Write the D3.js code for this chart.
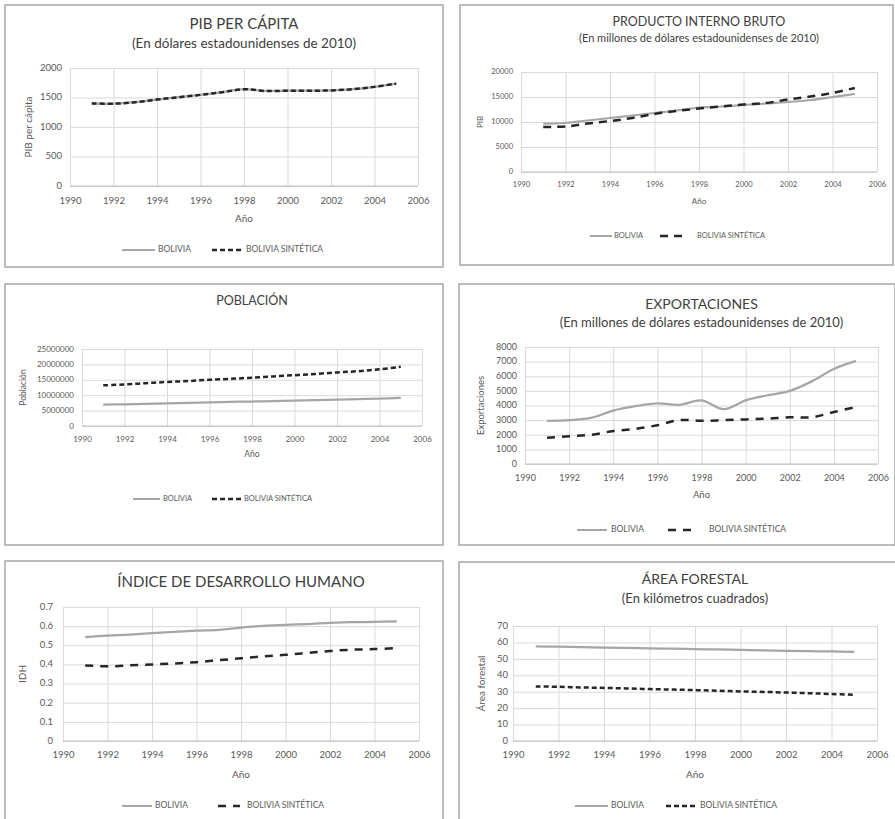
<!DOCTYPE html>
<html><head><meta charset="utf-8">
<script src="https://cdn.jsdelivr.net/npm/d3@7"></script>
<style>
html,body{margin:0;padding:0;background:#fff;}
svg text{font-family:Lato,"Open Sans",sans-serif;}
</style></head>
<body><svg id="c" width="895" height="819"></svg>
<script>
// ---------- DATA ----------
const years = [1991,1992,1993,1994,1995,1996,1997,1998,1999,2000,2001,2002,2003,2004,2005];
const xTicks = [1990,1992,1994,1996,1998,2000,2002,2004,2006];
const legendLabels = ["BOLIVIA","BOLIVIA SINTÉTICA"];
const xAxisTitle = "Año";

const pibpcTitle = "PIB PER CÁPITA";
const pibpcSubtitle = "(En dólares estadounidenses de 2010)";
const pibpcYTitle = "PIB per cápita";
const pibpcTicks = [0,500,1000,1500,2000];
const pibpcBolivia = [1400,1395,1420,1465,1505,1545,1590,1640,1612,1615,1615,1620,1640,1680,1735];
const pibpcSint    = [1400,1395,1420,1465,1505,1545,1590,1640,1610,1615,1615,1620,1640,1680,1735];

const pibTitle = "PRODUCTO INTERNO BRUTO";
const pibSubtitle = "(En millones de dólares estadounidenses de 2010)";
const pibYTitle = "PIB";
const pibTicks = [0,5000,10000,15000,20000];
const pibBolivia = [9700,9800,10300,10800,11300,11800,12300,12900,13100,13400,13700,14000,14400,15000,15600];
const pibSint    = [9000,9100,9700,10200,10800,11600,12200,12700,13100,13500,13800,14500,15100,15800,16800];

const pobTitle = "POBLACIÓN";
const pobYTitle = "Población";
const pobTicks = [0,5000000,10000000,15000000,20000000,25000000];
const pobBolivia = [6900000,7050000,7200000,7350000,7500000,7650000,7800000,7950000,8100000,8250000,8400000,8550000,8700000,8900000,9100000];
const pobSint    = [13200000,13500000,13900000,14300000,14600000,15000000,15300000,15700000,16100000,16500000,16900000,17400000,17800000,18400000,19200000];

const expTitle = "EXPORTACIONES";
const expSubtitle = "(En millones de dólares estadounidenses de 2010)";
const expYTitle = "Exportaciones";
const expTicks = [0,1000,2000,3000,4000,5000,6000,7000,8000];
const expBolivia = [2950,3000,3150,3650,3950,4150,4050,4350,3750,4350,4700,5000,5650,6500,7050];
const expSint    = [1800,1900,2000,2250,2400,2650,3000,2950,3000,3050,3100,3200,3200,3550,3900];

const idhTitle = "ÍNDICE DE DESARROLLO HUMANO";
const idhYTitle = "IDH";
const idhTicks = [0,0.1,0.2,0.3,0.4,0.5,0.6,0.7];
const idhBolivia = [0.543,0.550,0.556,0.563,0.570,0.576,0.580,0.592,0.601,0.607,0.611,0.617,0.621,0.622,0.625];
const idhSint    = [0.395,0.390,0.395,0.400,0.405,0.412,0.422,0.432,0.442,0.450,0.460,0.470,0.477,0.480,0.485];

const forTitle = "ÁREA FORESTAL";
const forSubtitle = "(En kilómetros cuadrados)";
const forYTitle = "Área forestal";
const forTicks = [0,10,20,30,40,50,60,70];
const forBolivia = [57.6,57.4,57.1,56.9,56.7,56.4,56.2,55.9,55.7,55.4,55.2,54.9,54.7,54.5,54.3];
const forSint    = [33.2,33.0,32.6,32.3,32.0,31.6,31.3,31.0,30.6,30.2,29.9,29.5,29.1,28.6,28.2];

// ---------- LAYOUT ----------
const panels = [
 {title:pibpcTitle, sub:pibpcSubtitle, ytitle:pibpcYTitle, yt:pibpcTicks, a:pibpcBolivia, b:pibpcSint,
  box:[5,5,443,267], plot:[70,418,68,186], ty:25, sy:45, tfs:15, sfs:13.5, tickFs:9.5, tickY:202, axY:219, yTitleX:29,
  legY:250, leg:[122,155,158,212,243,246], legFs:8.5, dash:"5,3", gapY:8},
 {title:pibTitle, sub:pibSubtitle, ytitle:pibYTitle, yt:pibTicks, a:pibBolivia, b:pibSint,
  box:[460,5,893,265], plot:[521,877,72,172], ty:23, sy:39, tfs:12.5, sfs:11, tickFs:7.5, tickY:185, axY:202, yTitleX:481,
  legY:236, leg:[590,612,614,660,683,697], legFs:7.5, dash:"8,6", gapY:8},
 {title:pobTitle, sub:null, ytitle:pobYTitle, yt:pobTicks, a:pobBolivia, b:pobSint,
  box:[5,284,443,545], plot:[82,422,349,426], ty:302, sy:0, tfs:12.5, sfs:0, tickFs:8, tickY:440, axY:455, yTitleX:24,
  legY:499, leg:[133,160,163,212,242,244], legFs:7.5, dash:"5,3", gapY:8},
 {title:expTitle, sub:expSubtitle, ytitle:expYTitle, yt:expTicks, a:expBolivia, b:expSint,
  box:[459,284,895,545], plot:[525,878,347,464], ty:305, sy:324, tfs:14, sfs:13, tickFs:9, tickY:479, axY:496, yTitleX:482,
  legY:530, leg:[577,607,611,668,695,709], legFs:8.5, dash:"8,7", gapY:8},
 {title:idhTitle, sub:null, ytitle:idhYTitle, yt:idhTicks, a:idhBolivia, b:idhSint,
  box:[5,561,443,830], plot:[63,419,607,741], ty:583, sy:0, tfs:15, sfs:0, tickFs:9.5, tickY:756, axY:775, yTitleX:23,
  legY:806, leg:[122,152,155,218,240,247], legFs:8.5, dash:"8,7", gapY:10},
 {title:forTitle, sub:forSubtitle, ytitle:forYTitle, yt:forTicks, a:forBolivia, b:forSint,
  box:[459,562,900,830], plot:[513,877,626,741], ty:580, sy:600, tfs:14, sfs:13, tickFs:9.5, tickY:756, axY:775, yTitleX:482,
  legY:806, leg:[575,608,611,666,698,700], legFs:8.5, dash:"5,3", gapY:5}
];

const svg = d3.select("#c");
const textCol = "#595959", titleCol = "#404040";

panels.forEach(p => {
  const g = svg.append("g");
  const [bx0,by0,bx1,by1] = p.box;
  g.append("rect").attr("x",bx0).attr("y",by0).attr("width",bx1-bx0).attr("height",by1-by0)
    .attr("fill","#fff").attr("stroke","#a6a6a6").attr("stroke-width",1.5);
  const [pl,pr,pt,pb] = p.plot;
  const x = d3.scaleLinear().domain([xTicks[0], xTicks[xTicks.length-1]]).range([pl,pr]);
  const y = d3.scaleLinear().domain([p.yt[0], p.yt[p.yt.length-1]]).range([pb,pt]);
  const pcx = (pl+pr)/2;

  g.append("text").attr("x",pcx).attr("y",p.ty).attr("text-anchor","middle").attr("dominant-baseline","middle")
    .attr("font-size",p.tfs).attr("fill",titleCol).text(p.title);
  if (p.sub) g.append("text").attr("x",pcx).attr("y",p.sy).attr("text-anchor","middle").attr("dominant-baseline","middle")
    .attr("font-size",p.sfs).attr("fill",titleCol).text(p.sub);

  const gx = g.append("g").attr("transform",`translate(0,${pb})`)
    .call(d3.axisBottom(x).tickValues(xTicks).tickSize(-(pb-pt)).tickFormat(d3.format("d")));
  gx.select(".domain").remove();
  gx.selectAll(".tick line").attr("stroke","#d9d9d9").attr("stroke-width",1);
  gx.selectAll(".tick text").attr("y",p.tickY-pb).attr("dy",null).attr("dominant-baseline","middle")
    .attr("font-size",p.tickFs).attr("fill",textCol).attr("font-family","Lato,sans-serif");

  const gy = g.append("g").attr("transform",`translate(${pl},0)`)
    .call(d3.axisLeft(y).tickValues(p.yt).tickSize(-(pr-pl)).tickFormat(d => String(d)));
  gy.select(".domain").remove();
  gy.selectAll(".tick line").attr("stroke","#d9d9d9").attr("stroke-width",1);
  gy.selectAll(".tick text").attr("x",-p.gapY).attr("dy",null).attr("dominant-baseline","middle")
    .attr("font-size",p.tickFs).attr("fill",textCol).attr("font-family","Lato,sans-serif");
  g.append("line").attr("x1",pl).attr("x2",pr).attr("y1",y(0)).attr("y2",y(0)).attr("stroke","#bfbfbf").attr("stroke-width",1);

  g.append("text").attr("x",pcx).attr("y",p.axY).attr("text-anchor","middle").attr("dominant-baseline","middle")
    .attr("font-size",p.tickFs+0.5).attr("fill",textCol).text(xAxisTitle);
  g.append("text").attr("transform",`translate(${p.yTitleX},${(pt+pb)/2}) rotate(-90)`).attr("text-anchor","middle")
    .attr("dominant-baseline","middle").attr("font-size",p.tickFs+0.5).attr("fill",textCol).text(p.ytitle);

  const line = d3.line().x((d,i)=>x(years[i])).y(d=>y(d)).curve(d3.curveCatmullRom.alpha(0.5));
  g.append("path").datum(p.a).attr("d",line).attr("fill","none").attr("stroke","#a6a6a6").attr("stroke-width",2.25);
  g.append("path").datum(p.b).attr("d",line).attr("fill","none").attr("stroke","#262626").attr("stroke-width",2.5)
    .attr("stroke-dasharray",p.dash);

  const L = p.leg;
  g.append("line").attr("x1",L[0]).attr("x2",L[1]).attr("y1",p.legY).attr("y2",p.legY).attr("stroke","#a6a6a6").attr("stroke-width",2);
  g.append("text").attr("x",L[2]).attr("y",p.legY).attr("dominant-baseline","middle").attr("font-size",p.legFs)
    .attr("fill",textCol).text(legendLabels[0]);
  g.append("line").attr("x1",L[3]).attr("x2",L[4]).attr("y1",p.legY).attr("y2",p.legY).attr("stroke","#262626").attr("stroke-width",2.5)
    .attr("stroke-dasharray",p.dash);
  g.append("text").attr("x",L[5]).attr("y",p.legY).attr("dominant-baseline","middle").attr("font-size",p.legFs)
    .attr("fill",textCol).text(legendLabels[1]);
});
</script></body></html>
